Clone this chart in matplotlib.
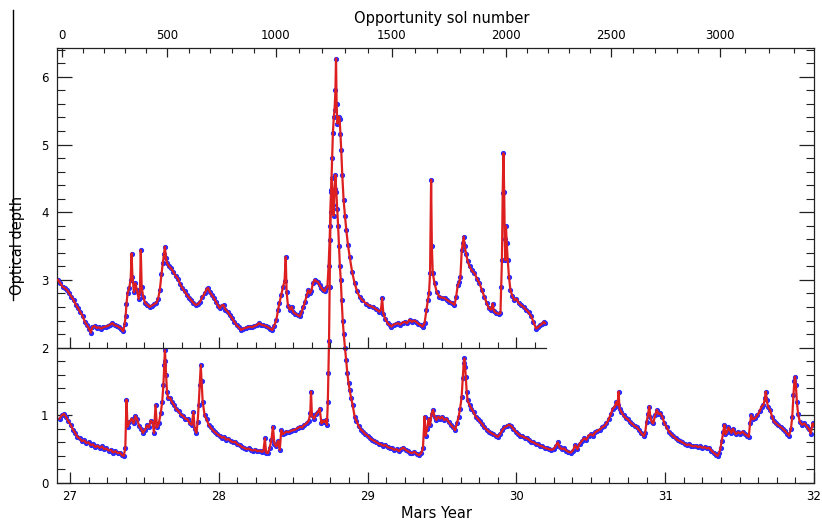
import numpy as np
import matplotlib
matplotlib.use('Agg')
import matplotlib.pyplot as plt
from matplotlib.lines import Line2D
from matplotlib.ticker import MultipleLocator, FixedLocator, NullFormatter

# Opportunity optical depth (lower trace, plotted as is)
opp_my = [26.930, 26.945, 26.960, 26.975, 26.990, 27.005, 27.020, 27.035, 27.050, 27.065,
          27.080, 27.095, 27.110, 27.125, 27.140, 27.155, 27.170, 27.185, 27.200, 27.215,
          27.230, 27.245, 27.260, 27.275, 27.290, 27.305, 27.320, 27.335, 27.350, 27.362,
          27.372, 27.380, 27.387, 27.400, 27.414, 27.428, 27.440, 27.452, 27.465, 27.478,
          27.490, 27.505, 27.518, 27.530, 27.542, 27.555, 27.565, 27.575, 27.585, 27.597,
          27.610, 27.620, 27.628, 27.634, 27.638, 27.642, 27.646, 27.652, 27.660, 27.672,
          27.685, 27.700, 27.715, 27.730, 27.745, 27.760, 27.775, 27.790, 27.805, 27.818,
          27.830, 27.838, 27.850, 27.858, 27.865, 27.872, 27.879, 27.885, 27.892, 27.905,
          27.918, 27.932, 27.945, 27.960, 27.975, 27.990, 28.005, 28.020, 28.035, 28.050,
          28.065, 28.080, 28.095, 28.110, 28.125, 28.140, 28.155, 28.170, 28.185, 28.200,
          28.215, 28.230, 28.245, 28.260, 28.275, 28.290, 28.300, 28.310, 28.318, 28.330,
          28.342, 28.354, 28.364, 28.374, 28.387, 28.398, 28.410, 28.420, 28.430, 28.442,
          28.455, 28.470, 28.485, 28.500, 28.515, 28.530, 28.545, 28.560, 28.575, 28.590,
          28.605, 28.615, 28.620, 28.626, 28.640, 28.655, 28.667, 28.678, 28.690, 28.700,
          28.710, 28.718, 28.727, 28.733, 28.737, 28.741, 28.745, 28.750, 28.755, 28.760,
          28.766, 28.772, 28.778, 28.784, 28.790, 28.796, 28.802, 28.808, 28.814, 28.820,
          28.826, 28.833, 28.840, 28.848, 28.856, 28.864, 28.872, 28.880, 28.890, 28.900,
          28.913, 28.925, 28.940, 28.955, 28.970, 28.985, 29.000, 29.015, 29.030, 29.045,
          29.060, 29.075, 29.090, 29.105, 29.120, 29.135, 29.150, 29.165, 29.180, 29.195,
          29.210, 29.225, 29.240, 29.255, 29.270, 29.285, 29.300, 29.315, 29.330, 29.345,
          29.360, 29.372, 29.383, 29.390, 29.400, 29.410, 29.420, 29.430, 29.440, 29.450,
          29.462, 29.475, 29.488, 29.500, 29.515, 29.530, 29.545, 29.560, 29.575, 29.588,
          29.600, 29.612, 29.622, 29.632, 29.640, 29.646, 29.650, 29.655, 29.660, 29.666,
          29.672, 29.685, 29.698, 29.712, 29.726, 29.740, 29.755, 29.770, 29.785, 29.800,
          29.815, 29.830, 29.845, 29.860, 29.875, 29.890, 29.905, 29.920, 29.935, 29.950,
          29.965, 29.980, 29.995, 30.010, 30.025, 30.040, 30.055, 30.070, 30.085, 30.100,
          30.115, 30.130, 30.145, 30.160, 30.175, 30.190, 30.205, 30.220, 30.235, 30.250,
          30.265, 30.278, 30.290, 30.305, 30.320, 30.335, 30.350, 30.365, 30.380, 30.395,
          30.410, 30.425, 30.440, 30.455, 30.470, 30.485, 30.500, 30.515, 30.530, 30.545,
          30.560, 30.575, 30.590, 30.605, 30.620, 30.635, 30.648, 30.660, 30.672, 30.680,
          30.687, 30.693, 30.705, 30.720, 30.735, 30.750, 30.765, 30.780, 30.795, 30.810,
          30.825, 30.840, 30.855, 30.865, 30.875, 30.885, 30.893, 30.900, 30.910, 30.920,
          30.932, 30.944, 30.955, 30.968, 30.980, 30.995, 31.010, 31.025, 31.040, 31.055,
          31.070, 31.085, 31.100, 31.115, 31.130, 31.145, 31.160, 31.175, 31.190, 31.205,
          31.220, 31.235, 31.250, 31.265, 31.280, 31.295, 31.310, 31.325, 31.340, 31.352,
          31.362, 31.372, 31.380, 31.390, 31.398, 31.405, 31.415, 31.425, 31.435, 31.445,
          31.455, 31.465, 31.475, 31.490, 31.505, 31.520, 31.535, 31.550, 31.562, 31.570,
          31.578, 31.590, 31.605, 31.620, 31.635, 31.648, 31.660, 31.670, 31.676, 31.682,
          31.692, 31.705, 31.718, 31.730, 31.745, 31.760, 31.775, 31.790, 31.805, 31.820,
          31.832, 31.845, 31.854, 31.862, 31.868, 31.872, 31.878, 31.885, 31.893, 31.905,
          31.920, 31.935, 31.950, 31.965, 31.978, 31.990, 31.998]
opp_tau = [0.95, 1.00, 1.02, 0.97, 0.91, 0.86, 0.79, 0.74, 0.68, 0.66,
           0.62, 0.63, 0.59, 0.60, 0.56, 0.57, 0.53, 0.55, 0.52, 0.54,
           0.50, 0.51, 0.48, 0.49, 0.45, 0.47, 0.44, 0.45, 0.41, 0.40,
           0.52, 1.23, 0.83, 0.90, 0.95, 0.88, 0.99, 0.94, 0.84, 0.80,
           0.74, 0.79, 0.85, 0.82, 0.92, 0.90, 0.74, 1.15, 0.82, 0.88,
           1.03, 1.20, 1.45, 1.75, 1.96, 1.80, 1.60, 1.35, 1.25, 1.26,
           1.20, 1.15, 1.09, 1.06, 1.01, 0.99, 0.95, 0.94, 0.88, 0.86,
           1.05, 0.80, 0.74, 0.90, 1.15, 1.45, 1.74, 1.50, 1.20, 1.00,
           0.94, 0.86, 0.82, 0.78, 0.75, 0.72, 0.70, 0.67, 0.68, 0.64,
           0.65, 0.62, 0.60, 0.61, 0.57, 0.56, 0.53, 0.52, 0.50, 0.51,
           0.49, 0.48, 0.49, 0.47, 0.48, 0.46, 0.47, 0.66, 0.45, 0.44,
           0.52, 0.64, 0.83, 0.58, 0.54, 0.62, 0.49, 0.78, 0.72, 0.74,
           0.76, 0.75, 0.77, 0.78, 0.79, 0.81, 0.83, 0.82, 0.86, 0.88,
           0.92, 1.03, 1.35, 1.00, 0.95, 1.02, 1.05, 1.10, 0.88, 0.92,
           0.90, 0.93, 0.86, 1.20, 1.62, 2.10, 2.90, 3.80, 4.30, 4.50,
           4.10, 3.95, 4.35, 4.55, 4.30, 4.05, 3.80, 3.50, 3.20, 3.00,
           2.70, 2.40, 2.20, 2.00, 1.82, 1.62, 1.48, 1.37, 1.25, 1.15,
           0.98, 0.92, 0.84, 0.79, 0.76, 0.72, 0.70, 0.66, 0.64, 0.62,
           0.60, 0.58, 0.57, 0.55, 0.56, 0.53, 0.52, 0.51, 0.49, 0.50,
           0.47, 0.50, 0.52, 0.49, 0.47, 0.45, 0.44, 0.46, 0.43, 0.41,
           0.44, 0.51, 0.98, 0.70, 0.80, 0.95, 0.85, 1.02, 1.08, 0.98,
           0.93, 0.98, 0.95, 0.98, 0.93, 0.95, 0.90, 0.86, 0.82, 0.78,
           0.88, 0.98, 1.10, 1.27, 1.55, 1.77, 1.84, 1.72, 1.57, 1.35,
           1.22, 1.15, 1.10, 1.05, 0.98, 0.95, 0.91, 0.87, 0.82, 0.79,
           0.76, 0.74, 0.72, 0.70, 0.68, 0.72, 0.78, 0.82, 0.84, 0.86,
           0.84, 0.80, 0.76, 0.73, 0.70, 0.69, 0.67, 0.66, 0.64, 0.61,
           0.60, 0.58, 0.57, 0.55, 0.54, 0.52, 0.51, 0.50, 0.49, 0.50,
           0.55, 0.60, 0.53, 0.50, 0.51, 0.48, 0.46, 0.45, 0.48, 0.56,
           0.50, 0.58, 0.62, 0.66, 0.64, 0.70, 0.72, 0.70, 0.75, 0.77,
           0.79, 0.82, 0.84, 0.88, 0.94, 1.02, 1.10, 1.12, 1.20, 1.15,
           1.35, 1.10, 1.05, 1.00, 0.96, 0.94, 0.90, 0.87, 0.84, 0.82,
           0.78, 0.74, 0.69, 0.74, 0.90, 1.02, 1.13, 0.98, 0.90, 0.88,
           1.00, 1.08, 1.02, 1.03, 0.98, 0.88, 0.82, 0.76, 0.72, 0.69,
           0.66, 0.63, 0.62, 0.60, 0.58, 0.56, 0.57, 0.55, 0.54, 0.55,
           0.53, 0.54, 0.52, 0.53, 0.51, 0.52, 0.48, 0.45, 0.42, 0.40,
           0.44, 0.52, 0.62, 0.75, 0.86, 0.72, 0.75, 0.82, 0.78, 0.74,
           0.80, 0.76, 0.72, 0.75, 0.73, 0.76, 0.72, 0.70, 0.68, 0.88,
           1.00, 0.94, 0.96, 1.00, 1.06, 1.13, 1.15, 1.25, 1.35, 1.22,
           1.12, 1.08, 0.98, 0.91, 0.88, 0.85, 0.83, 0.80, 0.77, 0.73,
           0.70, 0.80, 0.98, 1.30, 1.50, 1.57, 1.45, 1.20, 1.02, 0.90,
           0.86, 0.88, 0.84, 0.80, 0.73, 0.88, 0.85]

# Spirit optical depth (upper trace, shifted up by 2)
spi_my = [26.920, 26.935, 26.950, 26.965, 26.980, 26.995, 27.010, 27.025, 27.040, 27.055,
          27.070, 27.085, 27.100, 27.115, 27.128, 27.140, 27.150, 27.165, 27.180, 27.195,
          27.210, 27.225, 27.240, 27.255, 27.270, 27.285, 27.300, 27.315, 27.330, 27.345,
          27.358, 27.368, 27.374, 27.380, 27.387, 27.398, 27.408, 27.414, 27.420, 27.430,
          27.440, 27.450, 27.462, 27.470, 27.476, 27.482, 27.492, 27.505, 27.520, 27.535,
          27.550, 27.565, 27.580, 27.592, 27.604, 27.615, 27.624, 27.632, 27.638, 27.645,
          27.652, 27.665, 27.680, 27.695, 27.710, 27.725, 27.740, 27.755, 27.770, 27.785,
          27.800, 27.815, 27.830, 27.845, 27.860, 27.875, 27.890, 27.905, 27.918, 27.928,
          27.940, 27.952, 27.965, 27.980, 27.995, 28.007, 28.020, 28.032, 28.045, 28.060,
          28.075, 28.090, 28.105, 28.120, 28.135, 28.150, 28.165, 28.180, 28.195, 28.210,
          28.225, 28.240, 28.255, 28.270, 28.285, 28.300, 28.315, 28.330, 28.345, 28.360,
          28.372, 28.387, 28.398, 28.408, 28.420, 28.432, 28.442, 28.450, 28.456, 28.465,
          28.477, 28.490, 28.502, 28.515, 28.530, 28.544, 28.556, 28.568, 28.580, 28.592,
          28.602, 28.612, 28.622, 28.633, 28.644, 28.655, 28.667, 28.678, 28.690, 28.700,
          28.711, 28.722, 28.730, 28.738, 28.745, 28.751, 28.756, 28.762, 28.767, 28.773,
          28.778, 28.784, 28.788, 28.792, 28.797, 28.803, 28.808, 28.812, 28.818, 28.823,
          28.830, 28.839, 28.848, 28.857, 28.868, 28.880, 28.896, 28.913, 28.930, 28.946,
          28.965, 28.990, 29.010, 29.035, 29.055, 29.080, 29.090, 29.098, 29.106, 29.120,
          29.135, 29.150, 29.160, 29.175, 29.190, 29.205, 29.220, 29.235, 29.250, 29.265,
          29.282, 29.297, 29.312, 29.327, 29.342, 29.357, 29.370, 29.383, 29.395, 29.405,
          29.413, 29.420, 29.427, 29.432, 29.438, 29.450, 29.465, 29.483, 29.500, 29.517,
          29.535, 29.550, 29.567, 29.584, 29.595, 29.606, 29.616, 29.624, 29.633, 29.640,
          29.646, 29.652, 29.662, 29.672, 29.685, 29.700, 29.718, 29.735, 29.752, 29.768,
          29.785, 29.800, 29.815, 29.830, 29.840, 29.850, 29.864, 29.880, 29.893, 29.898,
          29.903, 29.908, 29.913, 29.918, 29.922, 29.926, 29.930, 29.935, 29.942, 29.950,
          29.960, 29.973, 29.987, 30.000, 30.015, 30.030, 30.048, 30.065, 30.082, 30.100,
          30.115, 30.132, 30.145, 30.160, 30.172, 30.183, 30.192]
spi_tau = [1.00, 0.95, 0.90, 0.88, 0.85, 0.80, 0.75, 0.70, 0.63, 0.58,
           0.52, 0.47, 0.38, 0.33, 0.28, 0.22, 0.30, 0.32, 0.29, 0.30,
           0.28, 0.30, 0.31, 0.32, 0.34, 0.36, 0.33, 0.32, 0.30, 0.28,
           0.24, 0.35, 0.46, 0.65, 0.80, 0.88, 1.00, 1.39, 1.05, 0.82,
           0.95, 0.85, 0.72, 0.80, 1.44, 0.90, 0.75, 0.66, 0.63, 0.60,
           0.62, 0.64, 0.66, 0.72, 0.85, 1.08, 1.25, 1.38, 1.49, 1.32,
           1.25, 1.20, 1.17, 1.12, 1.06, 1.02, 0.94, 0.88, 0.83, 0.78,
           0.74, 0.70, 0.66, 0.63, 0.64, 0.68, 0.75, 0.80, 0.86, 0.88,
           0.82, 0.78, 0.74, 0.68, 0.62, 0.58, 0.62, 0.63, 0.56, 0.53,
           0.48, 0.43, 0.38, 0.33, 0.30, 0.26, 0.28, 0.29, 0.30, 0.31,
           0.30, 0.32, 0.33, 0.36, 0.34, 0.33, 0.32, 0.30, 0.28, 0.26,
           0.32, 0.41, 0.55, 0.66, 0.78, 0.90, 0.98, 1.34, 0.82, 0.62,
           0.56, 0.60, 0.52, 0.50, 0.48, 0.46, 0.52, 0.60, 0.68, 0.78,
           0.85, 0.80, 0.84, 0.95, 1.00, 0.98, 0.97, 0.92, 0.88, 0.85,
           0.83, 0.88, 0.90, 1.20, 1.59, 2.00, 2.33, 2.80, 3.17, 3.40,
           3.51, 3.80, 4.27, 3.60, 3.31, 3.35, 3.41, 3.38, 3.15, 2.92,
           2.55, 2.18, 1.95, 1.74, 1.52, 1.34, 1.12, 0.95, 0.83, 0.75,
           0.70, 0.65, 0.62, 0.60, 0.57, 0.53, 0.56, 0.73, 0.50, 0.42,
           0.36, 0.33, 0.31, 0.34, 0.35, 0.36, 0.34, 0.37, 0.38, 0.36,
           0.41, 0.38, 0.40, 0.38, 0.35, 0.33, 0.31, 0.36, 0.55, 0.70,
           0.80, 1.10, 2.48, 1.50, 1.10, 0.95, 0.82, 0.75, 0.74, 0.73,
           0.70, 0.68, 0.66, 0.63, 0.75, 0.92, 0.97, 1.05, 1.44, 1.55,
           1.64, 1.50, 1.39, 1.28, 1.20, 1.14, 1.10, 1.02, 0.95, 0.85,
           0.75, 0.66, 0.58, 0.56, 0.65, 0.54, 0.51, 0.50, 0.51, 0.90,
           1.30, 2.28, 2.87, 2.30, 1.60, 1.29, 1.79, 1.55, 1.29, 1.05,
           0.85, 0.76, 0.70, 0.72, 0.66, 0.63, 0.60, 0.56, 0.52, 0.46,
           0.38, 0.28, 0.30, 0.33, 0.35, 0.38, 0.36]
spi_offset = 2.0

# sol number calibration against Mars Year (top axis)
sol_anchor = [0, 500, 1000, 1500, 2000, 2500, 3000, 3300]
my_anchor = [26.946, 27.651, 28.383, 29.161, 29.933, 30.638, 31.369, 31.866]

W, H = 822, 523
xmin, xmax = 26.913, 32.0
ymin, ymax = 0.0, 6.43
panel_end = 30.2  # end of the upper (Spirit) panel base line

fig = plt.figure(figsize=(W / 100, H / 100), dpi=100)
ax = fig.add_axes([57 / W, 1 - 483 / H, (814 - 57) / W, (483 - 47.7) / H])

red = '#dd1f1f'
blue = '#2b2bff'
spi_plot = np.array(spi_tau) + spi_offset

ax.plot(opp_my, opp_tau, ls='none', marker='.', ms=5.5, color=blue, zorder=2)
ax.plot(opp_my, opp_tau, color=red, lw=1.6, zorder=3)
ax.plot(spi_my, spi_plot, ls='none', marker='.', ms=5.5, color=blue, zorder=2)
ax.plot(spi_my, spi_plot, color=red, lw=1.6, zorder=3)

ax.set_xlim(xmin, xmax)
ax.set_ylim(ymin, ymax)

spine_col = '#222222'
for s in ax.spines.values():
    s.set_color(spine_col)
    s.set_linewidth(0.9)

ax.xaxis.set_major_locator(MultipleLocator(1))
ax.xaxis.set_minor_locator(MultipleLocator(0.125))
ax.yaxis.set_major_locator(MultipleLocator(1))
ax.yaxis.set_minor_locator(MultipleLocator(0.2))
ax.tick_params(axis='x', which='major', direction='in', length=8, width=0.9,
               top=False, bottom=True, labelsize=8.5, pad=5, colors=spine_col, labelcolor='black')
ax.tick_params(axis='x', which='minor', direction='in', length=4.5, width=0.8,
               top=False, bottom=True, colors=spine_col)
ax.tick_params(axis='y', which='major', direction='in', length=10.5, width=0.9,
               left=True, right=True, labelsize=8.5, pad=6, colors=spine_col, labelcolor='black')
ax.tick_params(axis='y', which='minor', direction='in', length=5.5, width=0.8,
               left=True, right=True, colors=spine_col)

# top axis: Opportunity sol number
top = ax.twiny()
top.set_xlim(xmin, xmax)
major_sols = np.arange(0, 3001, 500)
minor_sols = np.arange(0, 3301, 100)
top.xaxis.set_major_locator(FixedLocator(np.interp(major_sols, sol_anchor, my_anchor)))
top.xaxis.set_minor_locator(FixedLocator(np.interp(minor_sols, sol_anchor, my_anchor)))
top.set_xticklabels([str(s) for s in major_sols])
top.xaxis.set_minor_formatter(NullFormatter())
top.tick_params(axis='x', which='major', direction='in', length=6.5, width=0.9,
                labelsize=8.5, pad=4, colors=spine_col, labelcolor='black')
top.tick_params(axis='x', which='minor', direction='in', length=3.5, width=0.8, colors=spine_col)
for s in top.spines.values():
    s.set_visible(False)

# base line of the upper panel at optical depth 2
fig.canvas.draw()
to_fig = fig.transFigure.inverted()
x0, y0 = to_fig.transform(ax.transData.transform((xmin, 2.0)))
x1, _ = to_fig.transform(ax.transData.transform((panel_end, 2.0)))
mid = fig.add_axes([x0, y0, x1 - x0, 0.002])
mid.set_xlim(xmin, panel_end)
mid.patch.set_visible(False)
for name, s in mid.spines.items():
    s.set_visible(name == 'bottom')
mid.spines['bottom'].set_color(spine_col)
mid.spines['bottom'].set_linewidth(0.9)
mid.set_yticks([])
mid.xaxis.set_major_locator(MultipleLocator(1))
mid.xaxis.set_minor_locator(MultipleLocator(0.125))
mid.tick_params(axis='x', which='major', direction='in', length=8, width=0.9,
                labelbottom=False, colors=spine_col)
mid.tick_params(axis='x', which='minor', direction='in', length=4.5, width=0.8, colors=spine_col)

# axis titles
fig.text(442 / W, 1 - 18 / H, 'Opportunity sol number', ha='center', va='center', fontsize=10.5)
fig.text(436 / W, 1 - 514 / H, 'Mars Year', ha='center', va='center', fontsize=10.5)
fig.text(17.5 / W, 1 - 245 / H, 'Optical depth', ha='center', va='center',
         rotation=90, fontsize=10.5)
fig.add_artist(Line2D([12.7 / W, 12.7 / W], [1 - 10 / H, 1 - 300 / H],
                      transform=fig.transFigure, color='black', lw=1.0))

fig.savefig('out.png', dpi=100)
